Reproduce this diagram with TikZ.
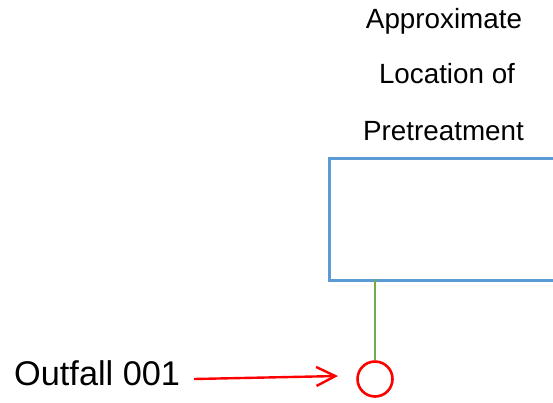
\documentclass[tikz,border=0pt]{standalone}
\usepackage{fontspec}
\setmainfont{Liberation Sans}
\usetikzlibrary{arrows.meta}
\definecolor{boxblue}{RGB}{91,155,213}
\definecolor{pipegreen}{RGB}{112,173,71}
\begin{document}
\begin{tikzpicture}[x=1pt,y=-1pt,
  label/.style={font=\fontsize{27.8}{33}\selectfont, anchor=base, inner sep=0pt},
  tag/.style={font=\fontsize{34.3}{40}\selectfont, anchor=base west, inner sep=0pt},
  site/.style={draw=boxblue, line width=2.6pt},
  pipe/.style={draw=pipegreen, line width=2.2pt},
  outfall/.style={draw=red, line width=2.6pt, circle, minimum size=35pt, inner sep=0pt},
  pointer/.style={draw=red, line width=2.4pt, -{Straight Barb[length=19pt,width=19pt,line width=2.4pt]}}]
\useasboundingbox (0,0) rectangle (553,402);
\clip (0,0) rectangle (553,402);
% caption over the pretreatment site
\node[label] (l1) at (444,28) {Approximate};
\node[label] (l2) at (447,83) {Location of};
\node[label] (l3) at (443.5,140) {Pretreatment};
% pretreatment site (runs off the right edge)
\node[site, minimum width=240pt, minimum height=122pt, anchor=north west, inner sep=0pt] (site) at (328,157) {};
% outfall and its connection
\node[outfall] (out) at (375,379) {};
\coordinate (tap) at (375,279);
\draw[pipe] (tap) -- (out.north);
% label with pointer
\node[tag] (name) at (14,385) {Outfall 001};
\coordinate (tail) at (194,379);
\coordinate (tip) at (338,376);
\draw[pointer] (tail) -- (tip);
\end{tikzpicture}
\end{document}
